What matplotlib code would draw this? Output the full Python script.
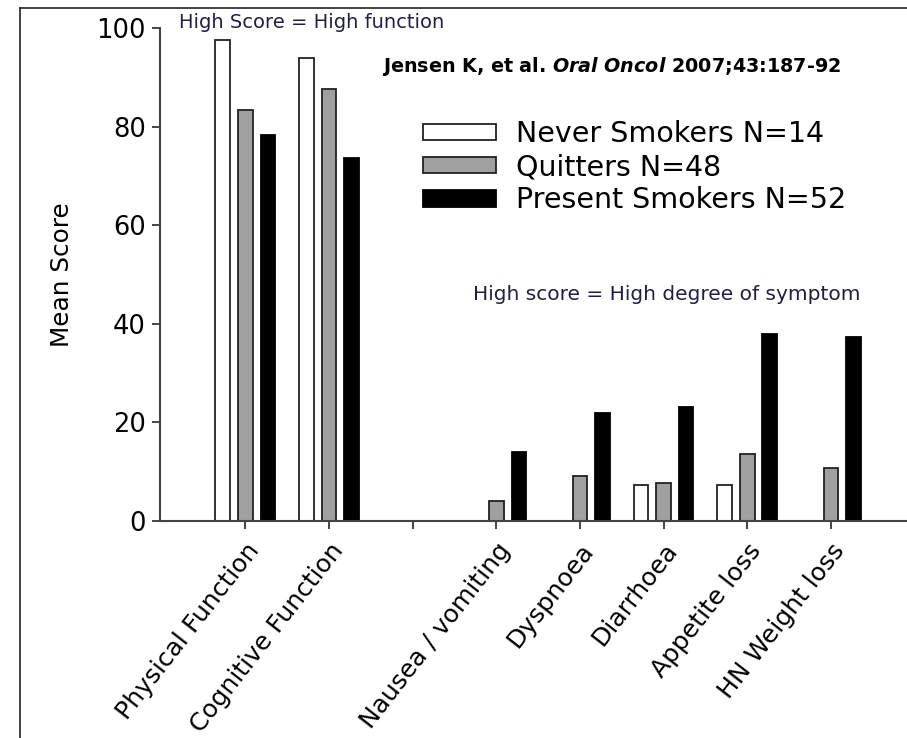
import numpy as np
import matplotlib
matplotlib.use("Agg")
import matplotlib.pyplot as plt
from matplotlib.lines import Line2D

# categories (the empty one is the gap between function and symptom scales)
categories = ["Physical Function", "Cognitive Function", "", "Nausea / vomiting",
              "Dyspnoea", "Diarrhoea", "Appetite loss", "HN Weight loss"]
never = [97.7, 94.0, np.nan, np.nan, np.nan, 7.3, 7.3, np.nan]
quitters = [83.5, 87.6, np.nan, 3.9, 9.1, 7.6, 13.5, 10.6]
present = [78.3, 73.6, np.nan, 14.0, 21.8, 23.0, 38.0, 37.4]
labels = ["Never Smokers N=14", "Quitters N=48", "Present Smokers N=52"]

plt.rcParams['font.family'] = ['DejaVu Sans']

fig = plt.figure(figsize=(9.07, 7.38), dpi=100)
ax = fig.add_axes([0.1764, 0.2945, 0.8236, 0.6672])

x = np.arange(len(categories))
w = 0.175
off = 0.27
ax.bar(x - off, never, w, color="white", edgecolor="#222222", linewidth=1.3, label=labels[0])
ax.bar(x, quitters, w, color="#a0a0a0", edgecolor="#222222", linewidth=1.3, label=labels[1])
ax.bar(x + off, present, w, color="black", edgecolor="black", linewidth=1.3, label=labels[2])

ax.set_xlim(-1.02, 7.91)
ax.set_ylim(0, 100)
ax.set_yticks([0, 20, 40, 60, 80, 100])
ax.set_xticks(x)
ax.set_xticklabels(categories, rotation=52, ha="right", va="top",
                   rotation_mode="anchor", fontsize=18)
ax.tick_params(axis="y", labelsize=18.5, length=6, width=1.4, color="#444444", pad=4)
ax.tick_params(axis="x", length=6, width=1.4, color="#444444", pad=7)
for s in ["top", "right"]:
    ax.spines[s].set_visible(False)
for s in ["left", "bottom"]:
    ax.spines[s].set_linewidth(1.5)
    ax.spines[s].set_color("#444444")
ax.set_ylabel("Mean Score", fontsize=17.8)
ax.yaxis.set_label_coords(-0.115, 0.5)

ax.legend(loc="upper left", bbox_to_anchor=(423 / 907, 1 - 120 / 738),
          bbox_transform=fig.transFigure, frameon=False, fontsize=20.5,
          handlelength=2.56, handleheight=0.53, handletextpad=0.7,
          labelspacing=0.18, borderpad=0, borderaxespad=0)

txtc = "#202040"
fig.text(179 / 907, 1 - 23 / 738, "High Score = High function", fontsize=14,
         color=txtc, va="center", ha="left")
fig.text(473 / 907, 1 - 295 / 738, "High score = High degree of symptom", fontsize=14.5,
         color=txtc, va="center", ha="left")
fig.text(382 / 907, 1 - 67 / 738,
         r"Jensen K, et al. $\mathbfit{Oral\ Oncol}$ 2007;43:187-92",
         fontsize=13.8, fontweight="bold", va="center", ha="left")

# outer frame lines (left and top)
fig.add_artist(Line2D([20 / 907, 20 / 907], [0, 1 - 8 / 738], color="#222222", lw=1.2))
fig.add_artist(Line2D([20 / 907, 1], [1 - 8 / 738, 1 - 8 / 738], color="#222222", lw=1.2))

fig.savefig("out.png", dpi=100)
